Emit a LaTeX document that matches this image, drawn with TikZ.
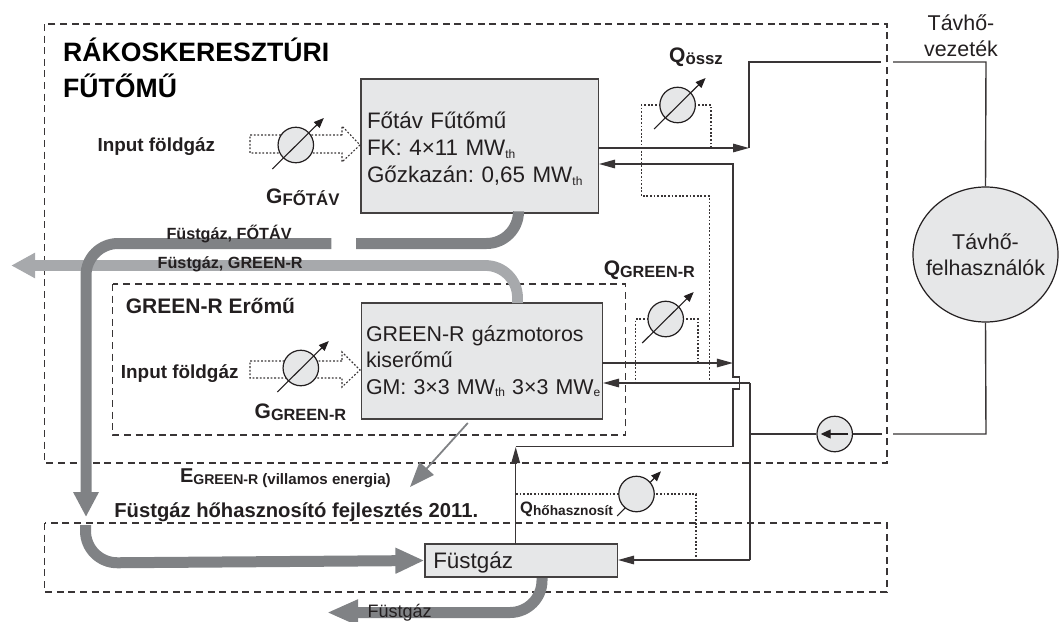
\documentclass[tikz,border=0pt]{standalone}
\usepackage{fontspec}
\usepackage{tikz}
\usepackage{xcolor}
\setmainfont{Liberation Sans}
\frenchspacing
\usetikzlibrary{arrows.meta,positioning,calc,shapes.geometric}
\definecolor{boxgray}{HTML}{E6E7E8}
\definecolor{fluedark}{HTML}{808285}
\definecolor{fluelight}{HTML}{A7A9AC}
\definecolor{inkdark}{HTML}{231F20}
\newcommand{\lowsub}[2]{\raisebox{-2.5pt}{\fontsize{#1}{#1}\selectfont #2}}
\tikzset{
  plantbox/.style={draw=inkdark!85, line width=1.5pt, fill=boxgray, inner sep=0pt, align=left, text=inkdark},
  plantframe/.style={draw=inkdark!90, line width=1.1pt, dash pattern=on 7pt off 4.6pt},
  pipe/.style={draw=inkdark!90, line width=1.4pt},
  pipetip/.style={-{Triangle[length=16pt,width=8.5pt]}},
  signal/.style={draw=inkdark!90, line width=1.1pt, dash pattern=on 1.8pt off 1.8pt},
  gauge/.style={circle, draw=inkdark, line width=1.2pt, fill=boxgray, minimum size=35.5pt, inner sep=0pt},
  needle/.style={draw=inkdark, line width=1.1pt, -{Triangle[length=10pt,width=8pt]}},
  fluedk/.style={draw=fluedark, line width=11pt, rounded corners=32pt},
  fluelt/.style={draw=fluelight, line width=10.8pt, rounded corners=32pt},
  lab/.style={inner sep=0pt, anchor=base west, text=inkdark, font=\bfseries\fontsize{18.9}{22}\selectfont},
  biglab/.style={lab, font=\bfseries\fontsize{21}{24}\selectfont},
  textlab/.style={inner sep=0pt, align=center, text=inkdark, font=\fontsize{21.4}{26.5}\selectfont},
}
\begin{document}
\begin{tikzpicture}[x=1pt,y=-1pt]
  \useasboundingbox (0,0) rectangle (1062,621);
  % frames
  \draw[plantframe] (44.6,24) rectangle (887,463);
  \draw[plantframe] (112.6,284) rectangle (625.7,435);
  \draw[plantframe] (44.6,523) rectangle (887,592);
  % units
  \node[plantbox, minimum width=237.5pt, minimum height=134pt, text width=225pt, font=\fontsize{22.4}{27.2}\selectfont] (fotav) at (479.5,146) {\rule{0pt}{22.4pt}F\H ot\'av F\H ut\H om\H u\\FK: 4×11 MW\lowsub{12}{th}\\G\H ozkaz\'an: 0,65 MW\lowsub{12}{th}};
  \node[plantbox, minimum width=241pt, minimum height=116pt, text width=232pt, font=\fontsize{21.4}{26.5}\selectfont] (green) at (482,361) {GREEN-R g\'azmotoros\\kiser\H om\H u\\\mbox{GM: 3×3 MW\lowsub{12}{th} 3×3 MW\lowsub{12}{e}}};
  \node[plantbox, minimum width=192.3pt, minimum height=33pt, text width=176pt, font=\fontsize{22.4}{26}\selectfont] (fustbox) at (521.3,560.5) {\rule{0pt}{20pt}F\"ustg\'az};
  \node[ellipse, draw=inkdark, line width=1.2pt, fill=boxgray, minimum width=145pt, minimum height=135pt, inner sep=0pt] (users) at (985.5,254.5) {};
  \node[textlab] (userlab) at (users.center) {T\'avh\H o-\\felhaszn\'al\'ok};
  % flue gas
  \coordinate (fotavflue) at (518.5,213);
  \coordinate (greenflue) at (517.5,303);
  \coordinate (fustflue) at (542,578);
  \coordinate (gapright) at (356,243.5);
  \coordinate (gapleft) at (331.3,243.5);
  \coordinate (frameflue) at (86,517);
  \coordinate (restart) at (85.5,525);
  \coordinate (chimney) at (11.2,265.5);
  \coordinate (exhaust) at (327,612.5);
  \draw[fluelt, -{Triangle[length=24pt,width=24pt]}] (greenflue) -- (517.5,265.5) -- (chimney);
  \draw[fluedk] (fotavflue) -- (518.5,243.5) -- (gapright);
  \draw[fluedk, -{Triangle[length=25pt,width=24pt]}] (gapleft) -- (86,243.5) -- (frameflue);
  \draw[fluedk, -{Triangle[length=29pt,width=24pt]}] (restart) -- (85.5,563) -- (fustbox.west);
  \draw[fluedk, -{Triangle[length=31pt,width=24pt]}] (fustflue) -- (542,612.5) -- (exhaust);
  \coordinate (elecfrom) at (467.8,423);
  \coordinate (elecout) at (410,487);
  \draw[draw=fluedark, line width=1.8pt, -{Triangle[length=25pt,width=19pt]}] (elecfrom) -- (elecout);
  % dotted gas inputs
  \foreach \y/\top/\bot in {145/135/153,370/361/378}{
    \draw[signal] (342,\top) -- (250,\top) -- (250,\bot) -- (342,\bot) -- (342,\bot+9) -- (360,\y) -- (342,\top-9) -- cycle;
  }
  % signal lines of the meters
  \draw[signal] (711,148) -- (711,105) -- (641.3,105) -- (641.3,196) -- (709.2,196) -- (709.2,383);
  \draw[signal] (698,363) -- (698,319) -- (635.5,319) -- (635.5,383);
  \draw[signal] (516,494) -- (696,494) -- (696,560);
  % meters
  \foreach \nam/\x/\y in {gfotav/295.8/145,ggreen/300.8/368,qossz/677.6/105,qgreen/665.7/319}{
    \node[gauge] (\nam) at (\x,\y) {};
    \draw[needle] ($(\nam)+(-23.5,24)$) -- ($(\nam)+(28,-27)$);
  }
  \coordinate (hofrom) at (617.2,516);
  \coordinate (hoto) at (661,471.3);
  \draw[needle] (hofrom) -- (hoto);
  \node[gauge] (qhoh) at (636.5,494) {};
  % network
  \coordinate (hotturn) at (749,148);
  \coordinate (breakleft) at (881.2,62);
  \coordinate (breakright) at (893,62);
  \coordinate (backleft) at (882.2,434);
  \coordinate (backright) at (893,434);
  \coordinate (backnode) at (750,434);
  \node[gauge] (pump) at (834.7,434) {};
  \coordinate (fotavhot) at (598.2,148);
  \coordinate (fotavret) at (599,164);
  \coordinate (greenhot) at (602.3,363);
  \coordinate (greenret) at (603,383);
  \coordinate (fustret) at (618,560);
  \coordinate (fustup) at (515.7,544);
  \draw[pipe, pipetip] (fotavhot) -- (hotturn);
  \draw[pipe] (hotturn) -- (749,62) -- (breakleft);
  \draw[pipe] (breakright) -- (986,62) -- (users.north);
  \draw[pipe] (users.south) -- (986,434) -- (backright);
  \draw[pipe] (backleft) -- (pump.east);
  \draw[pipe] (pump.west) -- (backnode);
  \draw[pipe, pipetip] (750,383) -- (greenret);
  \draw[pipe, pipetip] (750,560) -- (fustret);
  \draw[pipe] (750,383) -- (750,560);
  \draw[pipe, pipetip] (greenhot) -- (732.9,363);
  \draw[pipe, pipetip] (515.7,446.5) -- (732.9,446.5) -- (732.9,389) -- (739.5,389) -- (739.5,377) -- (732.9,377) -- (732.9,164) -- (fotavret);
  \draw[pipe, pipetip] (fustup) -- (515.7,447);
  \draw[line width=1.1pt, draw=inkdark, -{Triangle[length=10pt,width=9pt]}] ($(pump)+(13.6,0)$) -- ($(pump)+(-14,0)$);
  % labels
  \node[inner sep=0pt, anchor=north west, align=left, text=black, font=\bfseries\fontsize{26.6}{36}\selectfont] (title) at (63,38) {R\'AKOSKERESZT\'URI\\F\H UT\H OM\H U};
  \node[lab] (inputa) at (97.3,151) {Input f\"oldg\'az};
  \node[lab] (inputb) at (120.7,378) {Input f\"oldg\'az};
  \node[biglab] (gflab) at (266,203) {G\lowsub{16.8}{F\H OT\'AV}};
  \node[biglab] (gglab) at (254.5,418) {G\lowsub{16.3}{GREEN-R}};
  \node[biglab] (qolab) at (669,62) {Q\lowsub{16.8}{\"ossz}};
  \node[biglab] (qglab) at (603.6,275) {Q\lowsub{16.2}{GREEN-R}};
  \node[lab, font=\bfseries\fontsize{16.5}{20}\selectfont] (qhlab) at (520,513) {Q\lowsub{13.7}{h\H ohasznos\'it}};
  \node[lab, font=\bfseries\fontsize{20}{24}\selectfont] (elab) at (179.8,482) {E\lowsub{14.1}{GREEN-R}\hspace{4pt}\lowsub{15.1}{(villamos energia)}};
  \node[lab, font=\bfseries\fontsize{16.2}{20}\selectfont] (fflab) at (166.3,239) {F\"ustg\'az, F\H OT\'AV};
  \node[lab, font=\bfseries\fontsize{16.2}{20}\selectfont] (fglab) at (157.5,268) {F\"ustg\'az, GREEN-R};
  \node[biglab] (erolab) at (125.7,313) {GREEN-R Er\H om\H u};
  \node[lab, font=\bfseries\fontsize{20.2}{24}\selectfont] (devlab) at (114.2,517) {F\"ustg\'az h\H ohasznos\'it\'o fejleszt\'es 2011.};
  \node[lab, font=\fontsize{18}{20}\selectfont] (exlab) at (367.4,617) {F\"ustg\'az};
  \node[textlab] (netlab) at (961,35.5) {T\'avh\H o-\\vezet\'ek};
\end{tikzpicture}
\end{document}
